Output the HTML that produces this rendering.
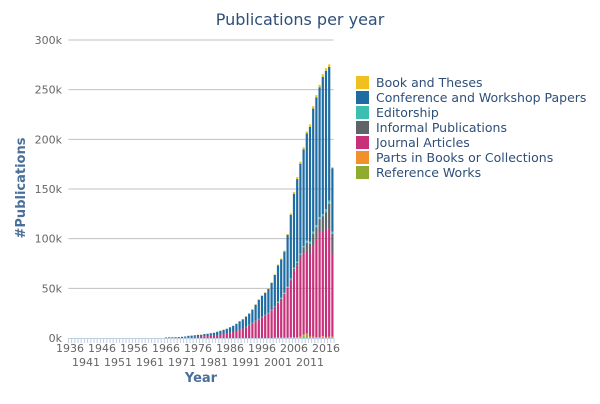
<!DOCTYPE html>
<html><head><meta charset="utf-8"><style>
body{margin:0;background:#fff;font-family:"DejaVu Sans",sans-serif}
svg text{font-family:"DejaVu Sans",sans-serif}
</style></head><body>
<svg id="chart" width="600" height="400" xmlns="http://www.w3.org/2000/svg">
<text x="300" y="25" text-anchor="middle" font-size="16" fill="#2f4f78">Publications per year</text>
<g id="grid"></g><g id="bars"></g><g id="axes"></g><g id="legend"></g>
<text x="201" y="382" text-anchor="middle" font-size="13" font-weight="bold" fill="#4a6f99">Year</text>
<text transform="translate(25,188) rotate(-90)" text-anchor="middle" font-size="13" font-weight="bold" fill="#4a6f99">#Publications</text>
</svg>
<script>
const startYear = 1936;
const Z30 = [0,0,0,0,0,0,0,0,0,0,0,0,0,0,0,0,0,0,0,0,0,0,0,0,0,0,0,0,0,0];
// values in thousands, years 1966..2018 (preceded by 30 zero years 1936..1965)
const reference = Z30.concat([0,0,0,0,0,0,0,0,0,0,0,0,0,0,0,0,0,0,0,0,0,0,0,0,0,0,0,0,0,0,0,0,0,0,0,0,0,0,0,0.5,0.5,0.5,1,2,4,1,1,0.5,0.5,0.5,0.5,1,1]);
const parts = Z30.concat([0,0,0,0,0,0,0,0,0,0,0,0,0,0,0,0,0,0,0,0,0,0,0,0,0,0,0,0,0,0,0,0,0,0,0.5,0.5,0.5,0.5,0.5,0.5,0.5,0.5,0.5,1.5,0.5,0.5,0.5,0.5,0.5,1.5,0.5,0.5,0.5]);
const journal = Z30.concat([0.1,0.2,0.3,0.3,0.4,0.5,0.7,0.9,1.0,1.2,1.5,1.5,1.8,2.0,2.3,2.6,3.0,3.5,4.0,4.5,5.3,6,7,8.5,9.5,11,13,15,17,19,21,23,25,28,31,35,39,44,50,57,66.7,71.8,78.5,82,83.5,83.5,92.6,98.6,105.7,105.7,108.7,108.7,83.5]);
const informal = Z30.concat([0,0,0,0,0,0,0,0,0,0,0,0,0,0,0,0,0,0,0,0,0,0,0,0,0,0,0,0,0,0,0,0,0,0,0,0,0,0,0,1,2,3,4,6,8,10,11,12,13,15,17,25,20]);
const editorship = Z30.concat([0,0,0,0,0,0,0,0,0,0,0,0,0,0,0,0,0,0,0,0,0,0,0,0,0,0.3,0.3,0.3,0.3,0.3,0.3,0.3,0.3,0.3,0.3,1,1,1,1,1,1,1,1,1,2,2,2,2,2,2,3,3,2]);
const conference = Z30.concat([0.5,0.6,0.5,0.6,0.6,0.7,0.8,1.3,1.4,1.6,1.7,1.8,2.2,2.3,2.5,2.7,3.3,3.8,4.3,4.8,5.5,6.3,7.3,8.3,9.3,10.2,11.2,13.2,16.2,19.2,21.2,22.2,24.2,27.2,31.7,36.5,38.5,41.5,52.2,64,74.3,83.2,90.5,97.5,108,115.5,123.9,128.5,130.8,138.3,139.3,134.8,64]);
const book = Z30.concat([0,0,0,0,0,0,0,0,0,0.2,0.2,0.2,0.2,0.2,0.2,0.2,0.2,0.2,0.2,0.2,0.2,0.2,0.2,0.2,0.2,0.5,0.5,0.5,0.5,0.5,0.5,0.5,0.5,0.5,0.5,1,1,1,1,1.5,2,2,2,2,2,2.5,2.5,2.5,2.5,2.5,2.5,2.5,1]);
const yTicks = [0,50,100,150,200,250,300];
const yTickLabels = ["0k","50k","100k","150k","200k","250k","300k"];
const legendNames = ["Book and Theses","Conference and Workshop Papers","Editorship","Informal Publications","Journal Articles","Parts in Books or Collections","Reference Works"];

const NS="http://www.w3.org/2000/svg";
const svg=document.getElementById('chart');
const nYears=journal.length;
const left=68.4, step=3.2, bw=2.2, y0=338, yScale=298/300;
const x=i=>left+step*i+step/2;
const y=v=>y0-v*yScale;
function mk(tag,attrs,parent){const e=document.createElementNS(NS,tag);for(const k in attrs)e.setAttribute(k,attrs[k]);parent.appendChild(e);return e;}
const grid=document.getElementById('grid');
yTicks.forEach((t,i)=>{
  if(t>0){const l=mk('line',{x1:left,x2:333.6,y1:y(t),y2:y(t),stroke:'#c0c0c0','stroke-width':1},grid);
  
  }
  const tx=mk('text',{x:62,y:y(t)+4,'text-anchor':'end','font-size':11,fill:'#666'},grid);
  tx.textContent=yTickLabels[i];
  
  
});
const series=[
 {d:reference,c:'#8fac2e',n:'reference-works'},
 {d:parts,c:'#f0912b',n:'parts-in-books'},
 {d:journal,c:'#c9307a',n:'journal-articles'},
 {d:informal,c:'#5f6469',n:'informal-publications'},
 {d:editorship,c:'#3bbfb0',n:'editorship'},
 {d:conference,c:'#1f6ca3',n:'conference-papers'},
 {d:book,c:'#f2c01e',n:'book-and-theses'}];
const bars=document.getElementById('bars');
for(let i=0;i<nYears;i++){
  let acc=0;
  series.forEach(s=>{
    const v=s.d[i]; if(v<=0)return;
    const r=mk('rect',{x:x(i)-bw/2,y:y(acc+v),width:bw,height:v*yScale,fill:s.c},bars);
    
    
    acc+=v;
  });
}
const axes=document.getElementById('axes');
const al=mk('line',{x1:left,x2:333.6,y1:y0+0.5,y2:y0+0.5,stroke:'#c0d0e0','stroke-width':1},axes);


for(let i=0;i<=nYears;i++){
  mk('line',{x1:left+step*i,x2:left+step*i,y1:y0,y2:y0+5,stroke:'#c0d0e0','stroke-width':1},axes);
}
for(let i=0;i<nYears;i+=5){
  const yr=startYear+i;
  const row=(i/5)%2;
  const t=mk('text',{x:x(i),y:row?366:352,'text-anchor':'middle','font-size':11,fill:'#666'},axes);
  t.textContent=yr;
  
  
}
const lg=document.getElementById('legend');
const legColors=['#f2c01e','#1f6ca3','#3bbfb0','#5f6469','#c9307a','#f0912b','#8fac2e'];
legendNames.forEach((n,i)=>{
  const g=mk('g',{},lg);
  
  
  mk('rect',{x:356,y:76+i*15,width:13,height:13,fill:legColors[i]},g);
  const t=mk('text',{x:376,y:87+i*15,'font-size':12.5,fill:'#2f4f78'},g);
  t.textContent=n;
});
</script>
</body></html>
